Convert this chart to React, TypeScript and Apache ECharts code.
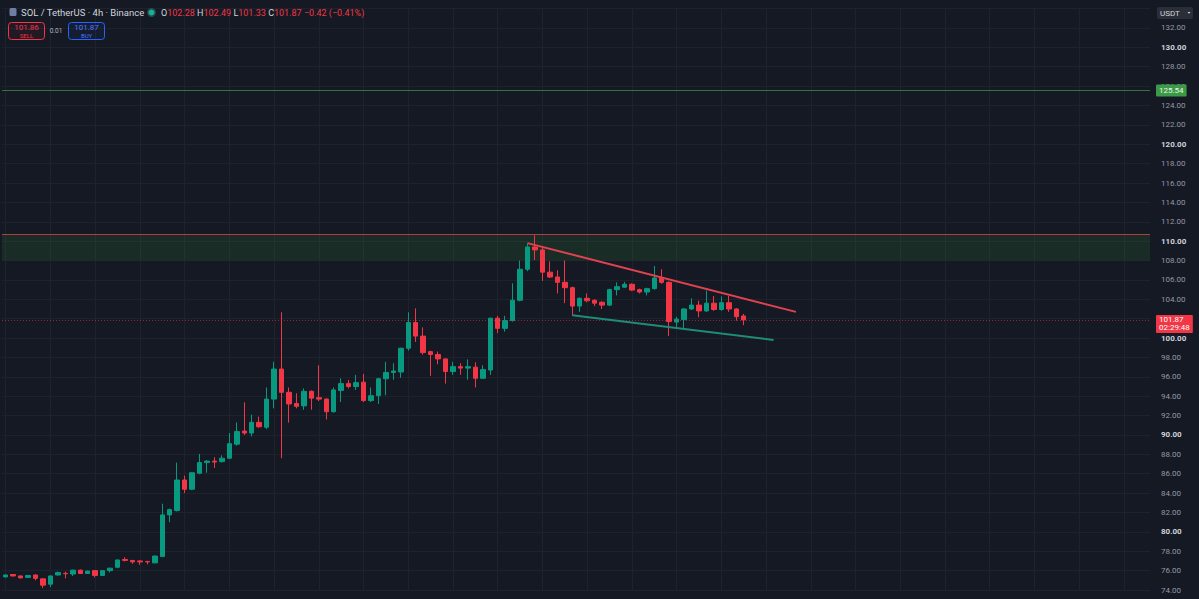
import React, { useEffect, useRef } from 'react';
import * as echarts from 'echarts';

// ---- data (4h candles, SOL/USDT) ----
const opens = [
  75.35, 75.6, 75.45, 75.3, 75.55, 75.15, 74.6, 75.55, 75.72, 75.65,
  76.05, 75.7, 76.0, 75.5, 76.0, 76.35, 77.15, 77.05, 77.0, 76.95,
  76.8, 77.45, 81.75, 82.2, 85.35, 84.4, 86.05, 87.15, 87.3, 87.25,
  87.6, 89.05, 90.4, 90.2, 91.3, 90.8, 93.7, 96.8, 94.4, 93.25,
  93.0, 94.5, 93.85, 93.7, 92.4, 94.6, 95.3, 95.0, 95.45, 93.55,
  94.05, 95.8, 96.45, 96.5, 98.95, 101.6, 100.2, 98.6, 98.3, 97.85,
  96.55, 97.05, 96.9, 97.0, 95.85, 96.7, 102.05, 101.0, 101.8, 103.9,
  107.1, 109.4, 109.1, 106.8, 106.3, 105.75, 105.2, 103.3, 104.1, 103.9,
  103.7, 103.4, 105.0, 105.25, 105.55, 105.0, 104.75, 105.1, 106.2, 105.75,
  101.65, 101.9, 103.0, 103.4, 102.8, 103.6, 102.95, 103.65, 103.0, 102.28,
];
const closes = [
  75.55, 75.45, 75.25, 75.5, 75.2, 74.5, 75.45, 75.8, 75.68, 76.05,
  75.7, 75.95, 75.5, 76.0, 76.25, 77.1, 77.05, 76.9, 76.9, 76.9,
  77.5, 81.75, 82.3, 85.35, 84.4, 86.1, 87.15, 87.3, 87.2, 87.6,
  89.1, 90.35, 90.2, 91.3, 90.85, 93.7, 96.8, 94.4, 93.2, 92.95,
  94.5, 93.8, 93.7, 92.4, 94.65, 95.3, 95.0, 95.4, 93.55, 94.05,
  95.8, 96.45, 96.6, 98.95, 101.6, 100.2, 98.5, 98.3, 97.85, 96.55,
  97.05, 96.9, 97.05, 95.85, 96.75, 102.05, 101.0, 101.8, 103.9, 107.1,
  109.4, 109.1, 106.8, 106.3, 105.75, 105.2, 103.3, 104.1, 103.85, 103.6,
  103.4, 105.0, 105.3, 105.55, 104.95, 104.75, 105.1, 106.2, 105.75, 101.7,
  101.95, 103.0, 103.4, 102.8, 103.6, 102.95, 103.65, 103.0, 102.2, 101.87,
];
const lows = [
  75.3, 75.4, 75.2, 75.25, 75.0, 74.2, 74.3, 75.5, 75.2, 75.45,
  75.65, 75.65, 75.3, 75.45, 75.8, 76.25, 76.95, 76.7, 76.6, 76.65,
  76.75, 77.4, 81.0, 82.1, 84.0, 84.3, 85.95, 86.1, 86.6, 87.15,
  87.5, 88.9, 90.0, 89.85, 90.75, 90.6, 92.75, 87.6, 91.27, 92.75,
  92.6, 92.6, 93.5, 91.6, 92.3, 93.4, 94.8, 94.65, 93.4, 93.4,
  93.2, 94.1, 95.7, 95.9, 98.7, 99.6, 98.3, 96.1, 97.3, 95.3,
  96.2, 96.2, 95.7, 94.9, 95.8, 96.2, 100.5, 100.66, 101.7, 103.8,
  106.9, 108.06, 105.9, 106.2, 104.6, 103.6, 102.3, 102.7, 103.7, 103.3,
  103.0, 103.3, 104.4, 105.2, 104.85, 104.6, 104.4, 105.0, 105.6, 100.2,
  101.1, 100.9, 102.9, 102.15, 102.7, 102.8, 102.8, 102.7, 101.8, 101.33,
];
const highs = [
  75.6, 75.65, 75.5, 75.55, 75.6, 75.2, 75.5, 75.9, 75.9, 76.1,
  76.1, 76.0, 76.05, 76.05, 76.3, 77.15, 77.38, 77.1, 77.05, 77.0,
  77.55, 82.9, 82.4, 87.14, 85.8, 86.15, 88.04, 87.4, 87.7, 87.9,
  90.2, 91.3, 93.37, 92.1, 91.9, 94.9, 97.56, 102.66, 94.9, 94.3,
  94.8, 94.6, 97.2, 93.8, 94.9, 95.85, 95.67, 96.2, 96.3, 94.9,
  95.9, 97.55, 97.4, 99.0, 102.66, 103.07, 101.1, 98.7, 98.6, 97.9,
  97.55, 97.4, 97.8, 97.5, 97.2, 102.1, 102.3, 102.3, 105.65, 108.0,
  109.78, 110.6, 109.4, 107.9, 107.0, 108.0, 105.3, 104.2, 104.6, 104.0,
  103.8, 105.1, 105.75, 105.8, 105.65, 105.1, 105.2, 107.44, 107.1, 105.85,
  102.2, 103.1, 104.1, 103.86, 104.9, 104.34, 104.3, 104.35, 103.1, 102.49,
];
// time slots on the x axis (100 candles + empty space to the right)
const slotLabels = Array.from({ length: 154 }, (_, i) => `bar ${i + 1}`);

const axisMin = 74;
const axisMax = 134;
const axisStep = 2;
// axis ticks whose labels are covered by the price tag in the reference
const hiddenTickLabels = [102];

const zoneLow = 108.0;
const zoneHigh = 110.7;
const alertPrice = 125.54;
const lastPrice = 101.87;
const countdown = '02:29:48';
const upperTrendIdx = [70, 106];
const upperTrendVal = [109.8, 102.7];
const lowerTrendIdx = [76, 103];
const lowerTrendVal = [102.35, 99.8];

const UP = '#089981';
const DOWN = '#f23645';
const BG = '#151924';
const GRIDC = '#1e222d';
const FONT = 'Roboto, "Noto Sans", sans-serif';

export default function App() {
  const ref = useRef<HTMLDivElement>(null);
  useEffect(() => {
    document.body.style.margin = '0';
    document.body.style.background = BG;
    const chart = echarts.init(ref.current!, undefined, { renderer: 'svg' });
    const candles = opens.map((o, i) => [o, closes[i], lows[i], highs[i]]);
    const option: any = {
      animation: false,
      backgroundColor: BG,
      textStyle: { fontFamily: FONT },
      grid: { left: 2, right: 49, top: 8.6, bottom: 9 },
      xAxis: {
        type: 'category',
        data: slotLabels,
        boundaryGap: true,
        axisLine: { show: false },
        axisTick: { show: false },
        axisLabel: { show: false },
        splitLine: {
          show: true,
          alignWithLabel: true,
          interval: (i: number) => i % 6 === 0,
          lineStyle: { color: GRIDC, width: 1 },
        },
      },
      yAxis: {
        type: 'value',
        position: 'right',
        min: axisMin,
        max: axisMax,
        interval: axisStep,
        axisLine: { show: false },
        axisTick: { show: false },
        splitLine: { lineStyle: { color: GRIDC, width: 1 } },
        axisLabel: {
          margin: 11,
          color: '#9598a1',
          fontSize: 8,
          fontFamily: FONT,
          formatter: (v: number) =>
            v === axisMax || hiddenTickLabels.includes(v)
              ? ''
              : v % 10 === 0
              ? `{b|${v.toFixed(2)}}`
              : v.toFixed(2),
          rich: { b: { fontWeight: 'bold', color: '#d1d4dc', fontSize: 8, fontFamily: FONT } },
        },
      },
      series: [
        {
          type: 'line',
          data: [],
          z: 1,
          silent: true,
          markArea: {
            silent: true,
            itemStyle: { color: 'rgba(46,125,50,0.2)' },
            data: [[{ yAxis: zoneLow }, { yAxis: zoneHigh }]],
          },
        },
        {
          type: 'candlestick',
          data: candles,
          barWidth: 5,
          z: 3,
          itemStyle: {
            color: UP,
            color0: DOWN,
            borderColor: UP,
            borderColor0: DOWN,
            borderWidth: 1,
          },
          markLine: {
            silent: true,
            symbol: ['none', 'none'],
            animation: false,
            label: { show: false },
            data: [
              {
                yAxis: alertPrice,
                lineStyle: { color: '#33733f', width: 1, type: 'solid' },
                label: {
                  show: true,
                  position: 'end',
                  distance: 6,
                  formatter: alertPrice.toFixed(2),
                  backgroundColor: '#3c9a47',
                  color: '#e8f5e9',
                  fontSize: 8,
                  fontFamily: FONT,
                  padding: [2, 3],
                  borderRadius: 1,
                },
              },
              {
                yAxis: zoneHigh,
                lineStyle: { color: '#b23c46', width: 1, type: 'solid' },
                label: { show: false },
              },
              {
                yAxis: lastPrice,
                lineStyle: { color: 'rgba(242,54,69,0.55)', width: 1, type: [1, 2] },
                label: {
                  show: true,
                  position: 'end',
                  distance: 6,
                  offset: [0, 4],
                  formatter: `${lastPrice.toFixed(2)}\n${countdown}`,
                  backgroundColor: '#f23645',
                  color: '#ffffff',
                  fontSize: 8,
                  lineHeight: 8,
                  fontFamily: FONT,
                  padding: [1, 3],
                  borderRadius: 1,
                },
              },
              [
                { coord: [slotLabels[upperTrendIdx[0]], upperTrendVal[0]] },
                { coord: [slotLabels[upperTrendIdx[1]], upperTrendVal[1]], lineStyle: { color: '#e0434f', width: 2, type: 'solid' } },
              ],
              [
                { coord: [slotLabels[lowerTrendIdx[0]], lowerTrendVal[0]] },
                { coord: [slotLabels[lowerTrendIdx[1]], lowerTrendVal[1]], lineStyle: { color: '#1f8c77', width: 2, type: 'solid' } },
              ],
            ],
          },
        },
      ],
      graphic: [
        { type: 'rect', shape: { x: 9.5, y: 8, width: 7, height: 8, r: 1.5 }, style: { fill: '#6f7fa3' }, z: 100 },
        {
          type: 'text', x: 21, y: 12.5, z: 100,
          style: { text: 'SOL / TetherUS · 4h · Binance', fill: '#d1d4dc', font: `9.5px ${FONT}`, verticalAlign: 'middle' },
        },
        { type: 'circle', shape: { cx: 151.5, cy: 12.5, r: 3 }, style: { fill: '#22ab94', stroke: 'rgba(34,171,148,0.35)', lineWidth: 3 }, z: 100 },
        {
          type: 'text', x: 161, y: 12.5, z: 100,
          style: {
            text: '{l|O}{v|102.28} {l|H}{v|102.49} {l|L}{v|101.33} {l|C}{v|101.87} {v|−0.42 (−0.41%)}',
            verticalAlign: 'middle',
            font: `9px ${FONT}`,
            rich: {
              l: { fill: '#d1d4dc', font: `9px ${FONT}` },
              v: { fill: DOWN, font: `9px ${FONT}` },
            },
          },
        },
        { type: 'rect', shape: { x: 8.5, y: 22.5, width: 36, height: 17, r: 3 }, style: { fill: 'rgba(242,54,69,0.06)', stroke: DOWN, lineWidth: 1 }, z: 100 },
        { type: 'text', x: 26.5, y: 27.5, z: 101, style: { text: '101.86', fill: DOWN, font: `8px ${FONT}`, align: 'center', verticalAlign: 'middle' } },
        { type: 'text', x: 26.5, y: 35, z: 101, style: { text: 'SELL', fill: DOWN, font: `6px ${FONT}`, align: 'center', verticalAlign: 'middle' } },
        { type: 'text', x: 56, y: 31, z: 101, style: { text: '0.01', fill: '#b2b5be', font: `6.5px ${FONT}`, align: 'center', verticalAlign: 'middle' } },
        { type: 'rect', shape: { x: 68.5, y: 22.5, width: 36, height: 17, r: 3 }, style: { fill: 'rgba(41,98,255,0.06)', stroke: '#2962ff', lineWidth: 1 }, z: 100 },
        { type: 'text', x: 86.5, y: 27.5, z: 101, style: { text: '101.87', fill: '#4f78ff', font: `8px ${FONT}`, align: 'center', verticalAlign: 'middle' } },
        { type: 'text', x: 86.5, y: 35, z: 101, style: { text: 'BUY', fill: '#4f78ff', font: `6px ${FONT}`, align: 'center', verticalAlign: 'middle' } },
        { type: 'rect', shape: { x: 1157, y: 7, width: 36, height: 12, r: 2 }, style: { fill: '#2a2e39' }, z: 100 },
        { type: 'text', x: 1160, y: 13, z: 101, style: { text: 'USDT', fill: '#d1d4dc', font: `8px ${FONT}`, verticalAlign: 'middle' } },
        { type: 'polygon', shape: { points: [[1187.5, 12], [1190.5, 12], [1189, 13.8]] }, style: { fill: '#d1d4dc' }, z: 101 },
      ],
    };
    chart.setOption(option);
    return () => chart.dispose();
  }, []);
  return <div ref={ref} style={{ position: 'absolute', left: 0, top: 0, width: 1199, height: 599 }} />;
}
